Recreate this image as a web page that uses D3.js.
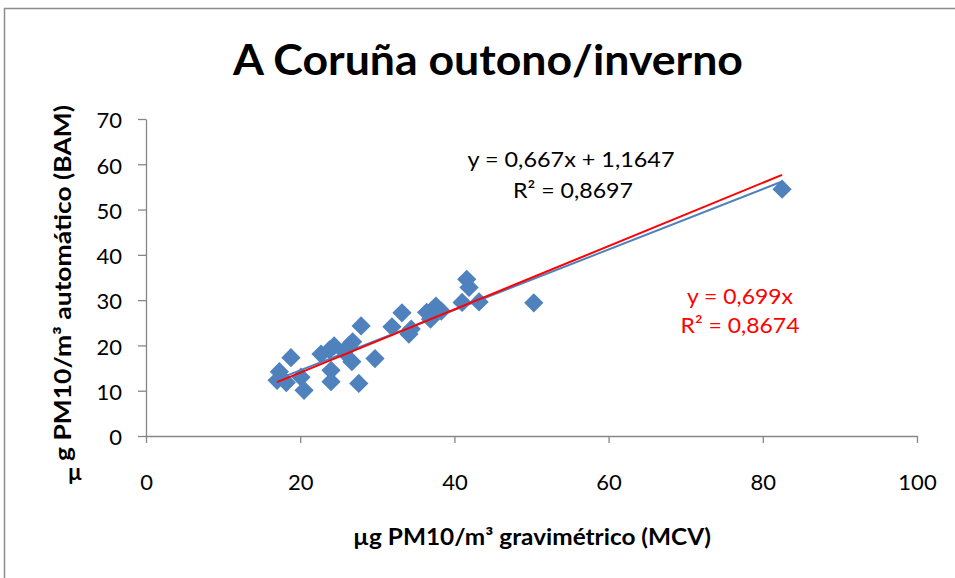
<!DOCTYPE html>
<html lang="gl">
<head>
<meta charset="utf-8"/>
<title>A Coruña outono/inverno</title>
<script src="https://cdnjs.cloudflare.com/ajax/libs/d3/7.8.5/d3.min.js"></script>
<style>
  body { margin: 0; background: #fff; }
  svg text { font-family: Lato, "Open Sans", sans-serif; }
</style>
</head>
<body>
<div id="chart"></div>
<script>
// values
var gravimetric = [82.5, 50.3, 41.6, 41.9, 41.0, 43.2, 37.6, 38.3, 36.4, 36.9, 33.2, 31.9,
                   34.4, 34.1, 27.9, 29.7, 27.6, 26.7, 26.3, 26.8, 24.4, 25.7, 24.0, 24.0,
                   22.7, 18.8, 17.3, 17.0, 18.2, 20.1, 20.5, 23.8];
var automatic   = [54.5, 29.4, 34.6, 32.8, 29.5, 29.6, 28.7, 27.6, 27.3, 25.8, 27.2, 24.1,
                   23.6, 22.5, 24.3, 17.1, 11.6, 16.4, 19.9, 20.8, 19.9, 18.6, 14.5, 12.0,
                   18.1, 17.3, 14.2, 12.3, 11.8, 13.0, 10.1, 19.0];
var xTicks = [0, 20, 40, 60, 80, 100];
var yTicks = [0, 10, 20, 30, 40, 50, 60, 70];

// trendlines (as printed on the chart)
var fitSlope = 0.667, fitIntercept = 1.1647;
var fitLabel = ["y = 0,667x + 1,1647", "R\u00b2 = 0,8697"];
var zeroSlope = 0.699;
var zeroLabel = ["y = 0,699x", "R\u00b2 = 0,8674"];

var W = 955, H = 578;
var axisColor = "#868686", blue = "#4F81BD", red = "#FF0000";

var svg = d3.select("#chart").append("svg")
  .attr("width", W).attr("height", H);

// chart frame
svg.append("rect")
  .attr("x", 4.5).attr("y", 8.5)
  .attr("width", W + 10).attr("height", H + 10)
  .attr("fill", "#fff").attr("stroke", "#8c8c8c").attr("stroke-width", 1.5);

var x = d3.scaleLinear().domain([0, 100]).range([146, 917]);
var y = d3.scaleLinear().domain([0, 70]).range([436, 119]);

// axes
var gx = svg.append("g").attr("transform", "translate(0," + y(0) + ")")
  .call(d3.axisBottom(x).tickValues(xTicks).tickSize(7).tickPadding(31).tickSizeOuter(0));
var gy = svg.append("g").attr("transform", "translate(" + x(0) + ",0)")
  .call(d3.axisLeft(y).tickValues(yTicks).tickSize(8).tickPadding(16).tickSizeOuter(0));

[gx, gy].forEach(function(g) {
  g.select(".domain").attr("stroke", axisColor).attr("stroke-width", 1.3);
  g.selectAll(".tick line").attr("stroke", axisColor).attr("stroke-width", 1.3);
  g.selectAll(".tick text").attr("fill", "#000")
    .style("font-family", "Lato, sans-serif").style("font-size", "22px");
});
gy.selectAll(".tick text").attr("dy", "0.4em");

// points
var pts = gravimetric.map(function(v, i) { return [v, automatic[i]]; });
svg.append("g").selectAll("path")
  .data(pts)
  .enter().append("path")
    .attr("d", d3.symbol().type(d3.symbolSquare).size(185))
    .attr("transform", function(d) { return "translate(" + x(d[0]) + "," + y(d[1]) + ") rotate(45)"; })
    .attr("fill", blue);

// trendlines over the markers
var xmin = d3.min(gravimetric), xmax = d3.max(gravimetric);
var line = d3.line().x(function(d) { return x(d[0]); }).y(function(d) { return y(d[1]); });

svg.append("path")
  .attr("d", line([[xmin, fitSlope * xmin + fitIntercept], [xmax, fitSlope * xmax + fitIntercept]]))
  .attr("stroke", blue).attr("stroke-width", 2).attr("fill", "none");
svg.append("path")
  .attr("d", line([[xmin, zeroSlope * xmin], [xmax, zeroSlope * xmax]]))
  .attr("stroke", red).attr("stroke-width", 2).attr("fill", "none");

// equation labels
function label(txt, cx, by, w, col) {
  svg.append("text").attr("x", cx).attr("y", by).attr("text-anchor", "middle")
    .style("font-size", "22px").attr("fill", col)
    .attr("textLength", w).attr("lengthAdjust", "spacingAndGlyphs")
    .text(txt);
}
label(fitLabel[0], 571, 167, 207, "#000");
label(fitLabel[1], 573, 198, 120, "#000");
label(zeroLabel[0], 740, 304, 106, red);
label(zeroLabel[1], 740, 333, 119, red);

// title
svg.append("text").attr("x", 488).attr("y", 75).attr("text-anchor", "middle")
  .style("font-size", "42px").style("font-weight", "bold")
  .attr("textLength", 510).attr("lengthAdjust", "spacingAndGlyphs")
  .text("A Coruña outono/inverno");

// axis titles
svg.append("text").attr("x", 532).attr("y", 545).attr("text-anchor", "middle")
  .style("font-size", "22px").style("font-weight", "bold")
  .attr("textLength", 358).attr("lengthAdjust", "spacingAndGlyphs")
  .text("\u00b5g PM10/m\u00b3 gravimétrico  (MCV)");

svg.append("text")
  .attr("transform", "translate(71,283) rotate(-90)")
  .attr("text-anchor", "middle")
  .style("font-size", "22px").style("font-weight", "bold")
  .attr("textLength", 356).attr("lengthAdjust", "spacingAndGlyphs")
  .text("g PM10/m\u00b3 automático  (BAM)");
svg.append("text").attr("x", 75).attr("y", 480).attr("text-anchor", "middle")
  .style("font-size", "22px").style("font-weight", "bold")
  .text("\u00b5");
</script>
</body>
</html>
